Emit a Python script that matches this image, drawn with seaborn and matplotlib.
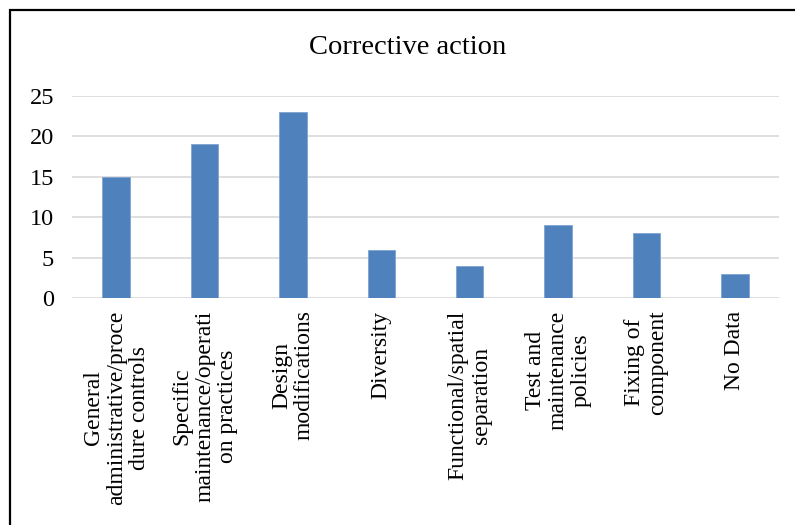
import matplotlib
matplotlib.use("Agg")
import matplotlib.pyplot as plt
import seaborn as sns
import pandas as pd
from matplotlib.patches import Rectangle

categories = [
    "General\nadministrative/proce\ndure controls",
    "Specific\nmaintenance/operati\non practices",
    "Design\nmodifications",
    "Diversity",
    "Functional/spatial\nseparation",
    "Test and\nmaintenance\npolicies",
    "Fixing of\ncomponent",
    "No Data",
]
counts = [15, 19, 23, 6, 4, 9, 8, 3]
yticks = [0, 5, 10, 15, 20, 25]

sns.set_theme(style="white")
plt.rcParams["font.family"] = ["Liberation Serif", "DejaVu Serif"]

W, H, DPI = 795, 525, 100
fig = plt.figure(figsize=(W / DPI, H / DPI), dpi=DPI)
ax = fig.add_axes([72 / W, 1 - 298 / H, (779 - 72) / W, (298 - 96) / H])

df = pd.DataFrame({"action": categories, "count": counts})
sns.barplot(data=df, x="action", y="count", color="#4F81BD", saturation=1,
            width=0.31, ax=ax, edgecolor="#7FA3D3", linewidth=0.6, zorder=3)

ax.set_ylim(0, 25)
ax.set_xlim(-0.5, len(categories) - 0.5)
ax.set_yticks(yticks)
ax.set_yticklabels([str(v) for v in yticks], fontsize=17.5, color="black")
ax.yaxis.grid(True, color="#D9D9D9", linewidth=1.2, zorder=0)
ax.xaxis.grid(False)
ax.set_xlabel("")
ax.set_ylabel("")
for s in ax.spines.values():
    s.set_visible(False)
ax.tick_params(axis="y", length=0, pad=13)
ax.tick_params(axis="x", length=0, pad=9)
ax.set_xticks(range(len(categories)))
ax.set_xticklabels(categories, rotation=90, fontsize=17, ha="center",
                   va="top", multialignment="center", color="black",
                   linespacing=1.12)

fig.text(408 / W, 1 - 48 / H, "Corrective action", ha="center", va="center",
         fontsize=20.5, color="black")

# outer frame (left and top edges visible)
fig.patches.append(Rectangle((9.5 / W, -0.1), 1.2, 1 - 9.5 / H + 0.1,
                             transform=fig.transFigure, fill=False,
                             edgecolor="black", linewidth=1.6))

fig.savefig("out.png", dpi=DPI, facecolor="white")
